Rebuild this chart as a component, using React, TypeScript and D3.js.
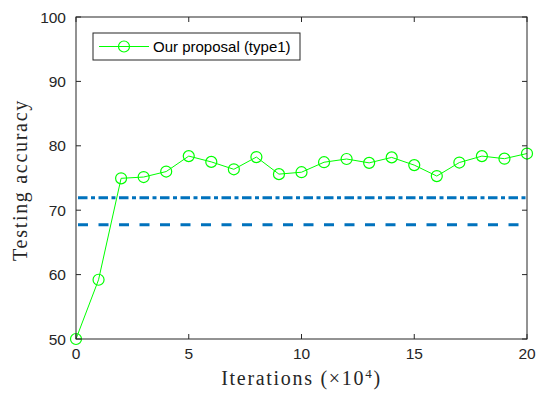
import React from "react";
import * as d3 from "d3";

const iterations = [0, 1, 2, 3, 4, 5, 6, 7, 8, 9, 10, 11, 12, 13, 14, 15, 16, 17, 18, 19, 20];
const accuracy = [50, 59.2, 74.95, 75.15, 76.0, 78.4, 77.5, 76.35, 78.25, 75.6, 75.9, 77.45, 77.95, 77.35, 78.2, 77.0, 75.3, 77.4, 78.4, 78.0, 78.8];
const dashDotLevel = 71.95;
const dashedLevel = 67.75;
const xTicks = [0, 5, 10, 15, 20];
const yTicks = [50, 60, 70, 80, 90, 100];
const legendLabel = "Our proposal (type1)";

const W = 536, H = 393;
const L = 76, R = 527, T = 17, B = 339;

export default function App() {
  const x = d3.scaleLinear().domain([0, 20]).range([L, R]);
  const y = d3.scaleLinear().domain([50, 100]).range([B, T]);
  const line = d3.line<number>().x((_, i) => x(iterations[i])).y((d) => y(d));
  const axisColor = "#262626";
  const blue = "#0072BD";
  const green = "#00FF00";
  const tl = 5;
  return (
    <svg width={W} height={H} style={{ position: "absolute", left: 0, top: 0, background: "#fff" }}>
      <rect x={0} y={0} width={W} height={H} fill="#fff" />
      {/* reference lines */}
      <line x1={x(0) + 2} x2={x(20)} y1={y(dashDotLevel)} y2={y(dashDotLevel)} stroke={blue} strokeWidth={3} strokeDasharray="9.5 3.5 4 3.5" />
      <line x1={x(0) + 2} x2={x(20)} y1={y(dashedLevel)} y2={y(dashedLevel)} stroke={blue} strokeWidth={3} strokeDasharray="10 10.5" />
      {/* series */}
      <path d={line(accuracy) || ""} fill="none" stroke={green} strokeWidth={1} />
      {accuracy.map((v, i) => (
        <circle key={i} cx={x(iterations[i])} cy={y(v)} r={5.5} fill="none" stroke={green} strokeWidth={1.2} />
      ))}
      {/* box */}
      <rect x={L} y={T} width={R - L} height={B - T} fill="none" stroke={axisColor} strokeWidth={1} />
      {xTicks.map((t) => (
        <g key={"x" + t}>
          <line x1={x(t)} x2={x(t)} y1={B} y2={B - tl} stroke={axisColor} />
          <line x1={x(t)} x2={x(t)} y1={T} y2={T + tl} stroke={axisColor} />
          <text x={x(t)} y={359} textAnchor="middle" fontFamily="Liberation Sans, Arial, sans-serif" fontSize={15.5} fill={axisColor}>{t}</text>
        </g>
      ))}
      {yTicks.map((t) => (
        <g key={"y" + t}>
          <line x1={L} x2={L + tl} y1={y(t)} y2={y(t)} stroke={axisColor} />
          <line x1={R} x2={R - tl} y1={y(t)} y2={y(t)} stroke={axisColor} />
          <text x={66} y={y(t) + 5.5} textAnchor="end" fontFamily="Liberation Sans, Arial, sans-serif" fontSize={15.5} fill={axisColor}>{t}</text>
        </g>
      ))}
      {/* axis labels */}
      <text x={(L + R) / 2} y={385} textAnchor="middle" fontFamily="Liberation Serif, Times New Roman, serif" fontSize={20} letterSpacing={1.7} fill={axisColor}>
        Iterations (×10<tspan dy={-7} fontSize={13}>4</tspan><tspan dy={7}>)</tspan>
      </text>
      <text transform={`translate(27,${(T + B) / 2 + 2}) rotate(-90)`} textAnchor="middle" fontFamily="Liberation Serif, Times New Roman, serif" fontSize={20} letterSpacing={1.7} fill={axisColor}>
        Testing accuracy
      </text>
      {/* legend */}
      <rect x={93} y={33} width={207} height={27} fill="#fff" stroke={axisColor} strokeWidth={1} />
      <line x1={99} x2={149} y1={46.5} y2={46.5} stroke={green} strokeWidth={1} />
      <circle cx={124} cy={46.5} r={5.5} fill="none" stroke={green} strokeWidth={1.2} />
      <text x={153} y={52} fontFamily="Liberation Sans, Arial, sans-serif" fontSize={15} fill="#000">{legendLabel}</text>
    </svg>
  );
}
